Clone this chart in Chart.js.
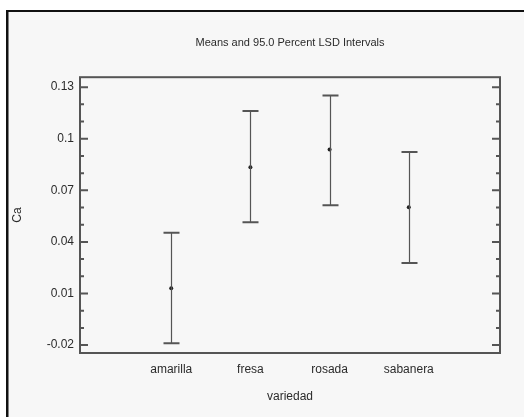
<!DOCTYPE html>
<html>
<head>
<meta charset="utf-8">
<script src="https://cdn.jsdelivr.net/npm/chart.js@4"></script>
<style>
  html, body { margin: 0; padding: 0; background: #fff; }
</style>
</head>
<body>
<canvas id="lsdChart" width="524" height="417"></canvas>
<script>
// Means and 95% LSD intervals of Ca by variety
const categories = ['amarilla', 'fresa', 'rosada', 'sabanera'];
const means = [0.0131, 0.0835, 0.0937, 0.0602];
const lower = [-0.0190, 0.0515, 0.0613, 0.0277];
const upper = [0.0454, 0.1162, 0.1252, 0.0923];
const yTicks = [-0.02, 0.01, 0.04, 0.07, 0.1, 0.13];
const yMinorTicks = [-0.01, 0, 0.02, 0.03, 0.05, 0.06, 0.08, 0.09, 0.11, 0.12];

const FONT = "'Liberation Sans Narrow', 'Arial Narrow', 'Liberation Sans', Arial, sans-serif";
const INK = '#2b2b2b';

// background, outer frame, error bars and inward tick marks
const lsdPlugin = {
  id: 'lsdPlugin',
  beforeDraw(chart) {
    const ctx = chart.ctx;
    ctx.save();
    ctx.fillStyle = '#ffffff';
    ctx.fillRect(0, 0, chart.width, chart.height);
    ctx.fillStyle = '#f7f7f7';
    ctx.fillRect(8, 12, chart.width, chart.height);
    ctx.fillStyle = '#111111';
    ctx.fillRect(6, 10, chart.width - 6, 2);
    ctx.fillRect(6, 10, 2.5, chart.height);
    ctx.restore();
  },
  afterDatasetsDraw(chart) {
    const ctx = chart.ctx;
    const xs = chart.scales.x;
    const ys = chart.scales.y;
    const area = chart.chartArea;
    ctx.save();

    // error bars
    ctx.strokeStyle = '#555555';
    categories.forEach((c, i) => {
      const x = Math.round(xs.getPixelForValue(i)) + 0.5;
      const yl = ys.getPixelForValue(lower[i]);
      const yu = ys.getPixelForValue(upper[i]);
      ctx.lineWidth = 1.2;
      ctx.beginPath();
      ctx.moveTo(x, yu);
      ctx.lineTo(x, yl);
      ctx.stroke();
      ctx.lineWidth = 2;
      ctx.beginPath();
      ctx.moveTo(x - 8, yu);
      ctx.lineTo(x + 8, yu);
      ctx.moveTo(x - 8, yl);
      ctx.lineTo(x + 8, yl);
      ctx.stroke();
    });

    // plot frame
    ctx.strokeStyle = '#555555';
    ctx.lineWidth = 2;
    ctx.strokeRect(area.left, area.top, area.right - area.left, area.bottom - area.top);

    // major / minor ticks on left and right, pointing inward
    ctx.lineWidth = 2;
    ctx.beginPath();
    yTicks.forEach(v => {
      const y = ys.getPixelForValue(v);
      ctx.moveTo(area.left, y);
      ctx.lineTo(area.left + 8, y);
      ctx.moveTo(area.right, y);
      ctx.lineTo(area.right - 8, y);
    });
    yMinorTicks.forEach(v => {
      const y = ys.getPixelForValue(v);
      ctx.moveTo(area.left, y);
      ctx.lineTo(area.left + 4, y);
      ctx.moveTo(area.right, y);
      ctx.lineTo(area.right - 4, y);
    });
    ctx.stroke();
    ctx.restore();
  }
};

new Chart(document.getElementById('lsdChart'), {
  type: 'scatter',
  data: {
    datasets: [{
      data: means.map((m, i) => ({ x: i, y: m })),
      pointRadius: 2,
      pointBackgroundColor: '#222222',
      pointBorderWidth: 0
    }]
  },
  options: {
    responsive: false,
    animation: false,
    layout: { padding: { left: 0, right: 24, top: 0, bottom: 0 } },
    plugins: {
      legend: { display: false },
      tooltip: { enabled: false },
      title: {
        display: true,
        fullSize: false,
        text: 'Means and 95.0 Percent LSD Intervals',
        color: INK,
        font: { family: FONT, size: 11, weight: 'normal' },
        padding: { top: 36, bottom: 28 }
      }
    },
    scales: {
      x: {
        type: 'linear',
        min: -1.152,
        max: 4.152,
        afterBuildTicks: s => { s.ticks = categories.map((c, i) => ({ value: i })); },
        afterFit: s => { s.height = 64; },
        ticks: {
          callback: v => categories[v],
          padding: 9,
          color: INK,
          maxRotation: 0,
          font: { family: FONT, size: 12 }
        },
        grid: { display: false, drawTicks: false },
        border: { display: false },
        title: {
          display: true,
          text: 'variedad',
          color: INK,
          font: { family: FONT, size: 12 },
          padding: { top: 0, bottom: 13 }
        }
      },
      y: {
        min: -0.0246,
        max: 0.1358,
        afterBuildTicks: s => { s.ticks = yTicks.map(v => ({ value: v })); },
        afterFit: s => { s.width = 80; },
        ticks: {
          callback: v => String(v),
          padding: 6,
          color: INK,
          font: { family: FONT, size: 12 }
        },
        grid: { display: false, drawTicks: false },
        border: { display: false },
        title: {
          display: true,
          text: 'Ca',
          color: INK,
          font: { family: FONT, size: 12 },
          padding: { top: 10, bottom: 0 }
        }
      }
    }
  },
  plugins: [lsdPlugin]
});
</script>
</body>
</html>
